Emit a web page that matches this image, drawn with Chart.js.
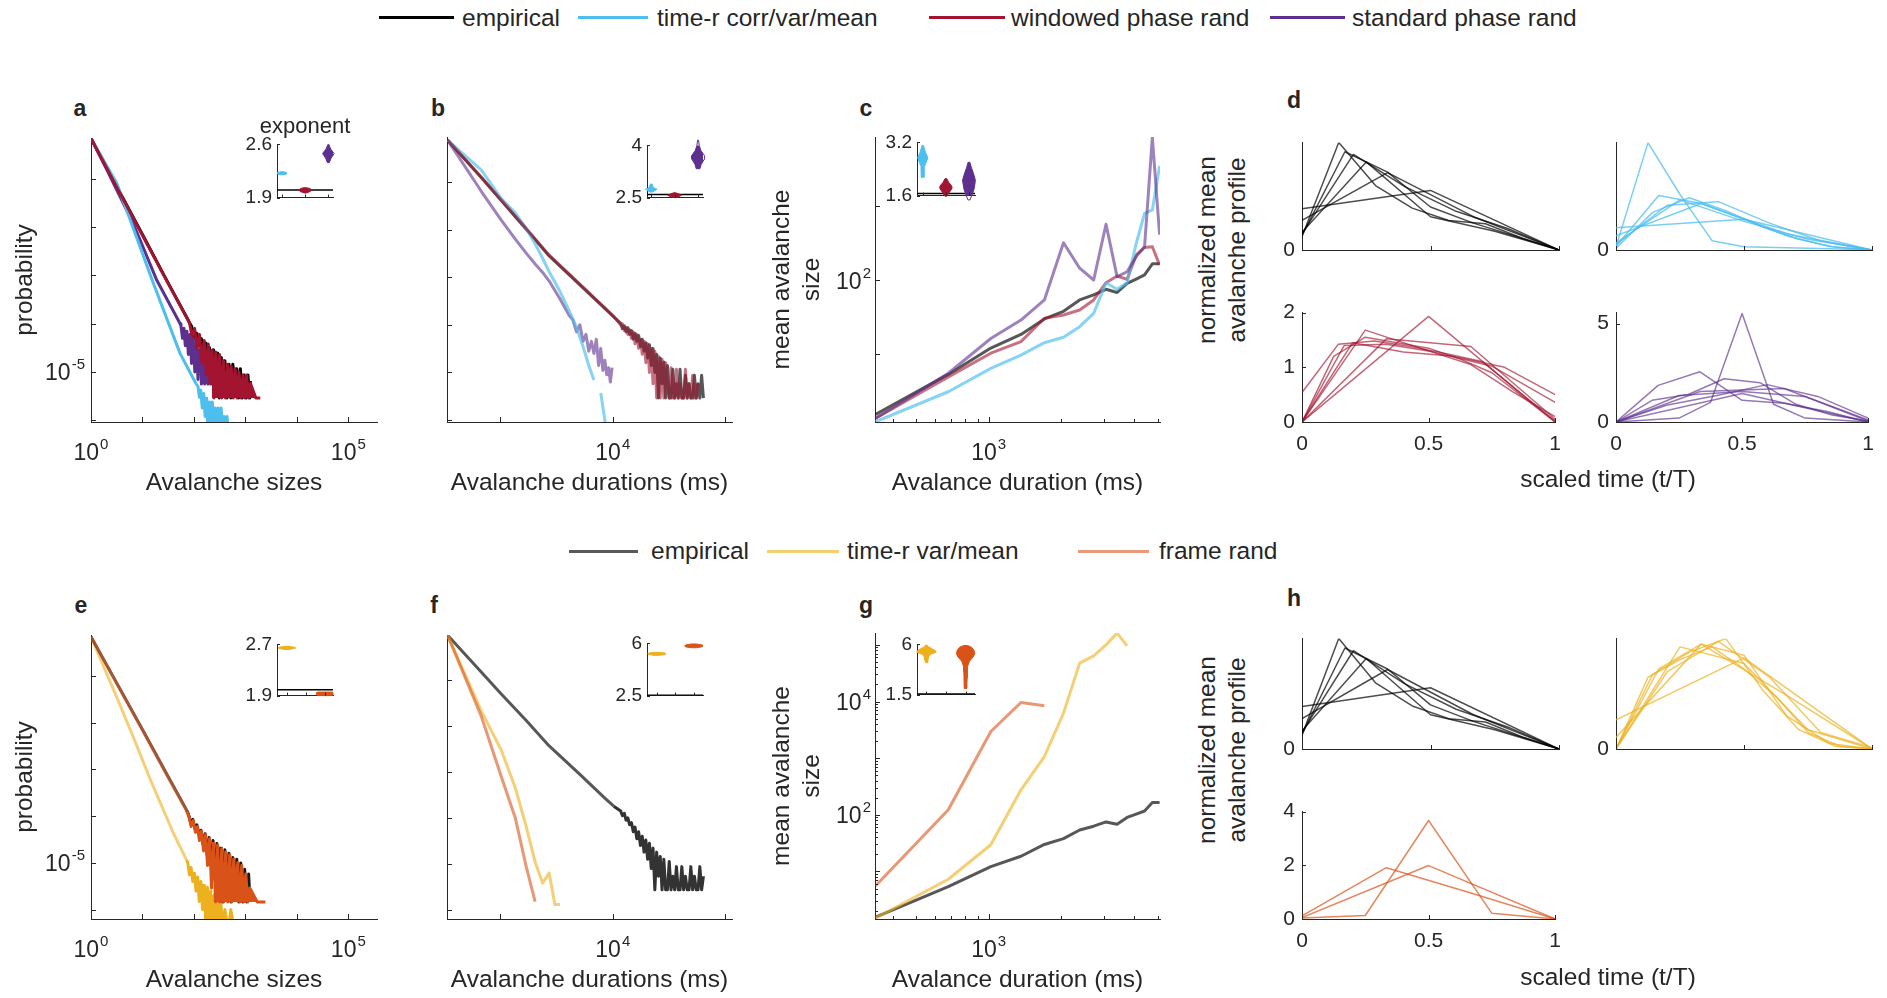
<!DOCTYPE html>
<html>
<head>
<meta charset="utf-8">
<script src="https://cdn.jsdelivr.net/npm/chart.js@4.4.1/dist/chart.umd.min.js"></script>
<style>
  body { margin: 0; width: 1887px; height: 998px; position: relative; overflow: hidden; background: #fff;
         font-family: 'Liberation Sans', Arial, Helvetica, sans-serif; color: #262626; }
  canvas { position: absolute; }
  .txt { position: absolute; white-space: nowrap; line-height: 1; }
  .swatch { position: absolute; height: 3px; }
</style>
</head>
<body>
<script>
// ---------- data: size distributions (panels a, e) ----------
const aEmpHeadX = [1, 3, 10, 30, 74];
const aEmpHeadY = [0.69, 0.077, 7.0e-3, 7.7e-4, 1.3e-4];
const aEmpTailX = [80, 90, 100, 112, 125, 140, 155, 170, 185, 200, 220, 240, 260, 285, 310, 340, 370, 400, 440, 480, 520, 570, 620, 680, 740, 800, 870, 950, 1030, 1120, 1220, 1250];
const aEmpTailY = [1.1e-4, 8.8e-5, 5.0e-5, 6.4e-5, 3.5e-5, 4.9e-5, 2.0e-5, 4.0e-5, 1.2e-5, 3.2e-5, 8.7e-6, 2.9e-5, 5.8e-6, 2.6e-5, 2.9e-6, 2.0e-5, 5.8e-6, 1.7e-5, 2.9e-6, 1.45e-5, 2.9e-6, 1.45e-5, 5.8e-6, 1.16e-5, 2.9e-6, 1.16e-5, 2.9e-6, 8.7e-6, 2.9e-6, 8.7e-6, 2.9e-6, 6.5e-6];
const aWinHeadX = [1, 3, 10, 30, 74];
const aWinHeadY = [0.69, 0.075, 6.8e-3, 7.5e-4, 1.28e-4];
const aWinTailX = [82, 92, 103, 115, 128, 143, 158, 175, 190, 205, 225, 245, 265, 290, 315, 345, 375, 410, 450, 490, 530, 580, 630, 690, 750, 820, 900, 980, 1060, 1150, 1250, 1600, 1950];
const aWinTailY = [1.05e-4, 5.5e-5, 8.0e-5, 3.0e-5, 6.0e-5, 1.5e-5, 4.5e-5, 8.7e-6, 3.8e-5, 5.8e-6, 3.0e-5, 2.9e-6, 2.6e-5, 5.8e-6, 2.3e-5, 2.9e-6, 1.7e-5, 2.9e-6, 1.45e-5, 5.8e-6, 1.3e-5, 2.9e-6, 1.16e-5, 2.9e-6, 1.0e-5, 2.9e-6, 8.7e-6, 2.9e-6, 8.7e-6, 2.9e-6, 5.8e-6, 2.9e-6, 2.9e-6];
const aStdHeadX = [1, 2, 6.6, 19, 54];
const aStdHeadY = [0.69, 0.16, 0.012, 7.9e-4, 1.0e-4];
const aStdTailX = [56, 60, 64, 68, 73, 78, 84, 90, 97, 104, 112, 120, 130, 140, 150, 162, 175, 188, 200, 215, 230, 240];
const aStdTailY = [9.0e-5, 5.0e-5, 8.0e-5, 3.5e-5, 7.0e-5, 2.3e-5, 6.0e-5, 1.5e-5, 5.0e-5, 1.0e-5, 4.0e-5, 7.0e-6, 3.0e-5, 5.6e-6, 2.4e-5, 5.6e-6, 1.8e-5, 5.6e-6, 1.3e-5, 5.6e-6, 8.0e-6, 5.6e-6];
const aTimeHeadX = [1, 3.2, 16, 54, 110];
const aTimeHeadY = [0.69, 0.079, 7.2e-4, 2.4e-5, 5.7e-6];
const aTimeTailX = [120, 128, 136, 145, 155, 165, 176, 188, 200, 214, 228, 244, 260, 278, 296, 316, 338, 360, 385, 410, 440, 460];
const aTimeTailY = [5.0e-6, 3.0e-6, 4.2e-6, 1.8e-6, 3.6e-6, 1.2e-6, 3.0e-6, 6e-7, 2.4e-6, 1.2e-6, 2.4e-6, 6e-7, 1.8e-6, 6e-7, 1.8e-6, 6e-7, 1.8e-6, 6e-7, 1.2e-6, 6e-7, 1.2e-6, 6e-7];

const eEmpHeadX = [1, 10, 30, 72];
const eEmpHeadY = [0.69, 7.1e-3, 7.8e-4, 1.35e-4];
const eEmpTailX = [78, 86, 95, 104, 114, 125, 137, 150, 165, 180, 197, 215, 235, 257, 280, 306, 334, 365, 400, 437, 478, 522, 570, 623, 680, 743, 812, 887, 969, 1058, 1156, 1230];
const eEmpTailY = [1.1e-4, 7.5e-5, 8.5e-5, 5.5e-5, 6.5e-5, 4.0e-5, 5.0e-5, 2.5e-5, 4.2e-5, 1.5e-5, 3.5e-5, 8.8e-6, 3.0e-5, 4.4e-6, 2.6e-5, 2.9e-6, 2.2e-5, 1.46e-6, 1.9e-5, 2.9e-6, 1.6e-5, 1.46e-6, 1.3e-5, 2.9e-6, 1.2e-5, 1.46e-6, 1.0e-5, 1.46e-6, 7.3e-6, 1.46e-6, 5.8e-6, 1.46e-6];
const eFrameHeadX = [1, 10, 30, 72];
const eFrameHeadY = [0.69, 6.9e-3, 7.4e-4, 1.3e-4];
const eFrameTailX = [80, 88, 97, 107, 117, 128, 140, 154, 168, 184, 201, 220, 241, 264, 289, 316, 346, 378, 414, 453, 496, 542, 593, 649, 710, 777, 850, 930, 1018, 1114, 1218, 1700, 2450];
const eFrameTailY = [1.0e-4, 6.0e-5, 8.0e-5, 4.5e-5, 6.0e-5, 3.0e-5, 4.8e-5, 1.8e-5, 4.0e-5, 8.8e-6, 3.3e-5, 2.9e-6, 2.8e-5, 1.46e-6, 2.4e-5, 1.46e-6, 2.0e-5, 1.46e-6, 1.7e-5, 1.46e-6, 1.5e-5, 1.46e-6, 1.2e-5, 2.9e-6, 1.0e-5, 1.46e-6, 8.8e-6, 1.46e-6, 5.8e-6, 1.46e-6, 2.9e-6, 1.46e-6, 1.46e-6];
const eTimeHeadX = [1, 3.16, 6.6, 14, 40, 72];
const eTimeHeadY = [0.69, 0.035, 5.0e-3, 6.3e-4, 4.3e-5, 1.15e-5];
const eTimeTailX = [76, 82, 88, 95, 102, 110, 118, 127, 137, 147, 158, 170, 183, 197, 212, 228, 245, 264, 284, 305, 330, 360, 400, 440, 480, 520, 580];
const eTimeTailY = [1.0e-5, 5.5e-6, 8.0e-6, 4.0e-6, 6.0e-6, 2.5e-6, 5.0e-6, 1.5e-6, 4.0e-6, 1.0e-6, 3.5e-6, 5e-7, 3.0e-6, 1.0e-6, 2.5e-6, 5e-7, 2.0e-6, 5e-7, 1.5e-6, 5e-7, 1.5e-6, 5e-7, 1.0e-6, 5e-7, 5e-7, 1.0e-6, 5e-7];

// ---------- data: duration distributions (panels b, f) ----------
const tailDurMs = [11750, 12190, 12650, 13120, 13610, 14130, 14660, 15210, 15780, 16370, 16980, 17620, 18280, 18970, 19680, 20420, 21180, 21980, 22800, 23660, 24550, 25470, 26420, 27420, 28440, 29510, 30620, 31770, 32960, 34200, 35480, 36810, 38190, 39630, 41110, 42660, 44260, 45920, 47640, 49430, 51290, 53210, 55210, 57280, 59430, 61660, 63970];
const bEmpHeadX = [340, 680, 1020, 1700, 2720, 5100, 10200];
const bEmpHeadY = [0.76, 0.123, 0.041, 0.0102, 2.8e-3, 6.9e-4, 1.47e-4];
const bEmpTailY = [1.07e-4, 8.3e-5, 9.5e-5, 7.1e-5, 8.7e-5, 6.3e-5, 7.6e-5, 5.0e-5, 6.6e-5, 4.5e-5, 6.0e-5, 3.5e-5, 5.0e-5, 2.8e-5, 4.2e-5, 2.0e-5, 3.8e-5, 1.4e-5, 3.2e-5, 1.0e-5, 2.4e-5, 2.9e-6, 2.0e-5, 5.8e-6, 1.66e-5, 2.9e-6, 1.4e-5, 2.9e-6, 2.9e-6, 1.16e-5, 2.9e-6, 5.8e-6, 2.9e-6, 1.16e-5, 2.9e-6, 2.9e-6, 8.7e-6, 2.9e-6, 5.8e-6, 2.9e-6, 2.9e-6, 8.7e-6, 2.9e-6, 5.8e-6, 2.9e-6, 8.7e-6, 2.9e-6];
const bWinHeadX = [340, 680, 1020, 1700, 2720, 5100, 10200];
const bWinHeadY = [0.76, 0.125, 0.042, 0.0105, 2.9e-3, 7.2e-4, 1.5e-4];
const bWinTailY = [1.0e-4, 1.05e-4, 7.6e-5, 8.9e-5, 6.3e-5, 7.9e-5, 5.2e-5, 7.1e-5, 4.0e-5, 6.3e-5, 3.2e-5, 5.0e-5, 2.4e-5, 4.5e-5, 1.6e-5, 4.0e-5, 1.0e-5, 3.2e-5, 5.8e-6, 2.8e-5, 2.9e-6, 2.2e-5, 2.9e-6, 1.9e-5, 2.9e-6, 1.6e-5, 5.8e-6, 2.9e-6, 1.26e-5, 2.9e-6, 2.9e-6, 1.16e-5, 2.9e-6, 5.8e-6, 2.9e-6, 2.9e-6, 1.16e-5, 2.9e-6, 5.8e-6, 2.9e-6, 8.7e-6, 2.9e-6, 2.9e-6, 5.8e-6];
const bStdX = [340, 680, 1020, 1360, 1700, 2040, 2380, 2720, 3400, 4080, 4420, 4760, 5100, 5440, 5780, 6120, 6460, 6800, 7140, 7480, 7820, 8160, 8500, 8840, 9180, 9520, 9860];
const bStdY = [0.76, 0.063, 0.0158, 6.3e-3, 3.2e-3, 1.9e-3, 1.26e-3, 8.3e-4, 3.5e-4, 1.6e-4, 1.26e-4, 7.1e-5, 1.0e-4, 4.5e-5, 6.3e-5, 2.8e-5, 4.5e-5, 2.5e-5, 5.0e-5, 1.4e-5, 3.2e-5, 1.1e-5, 1.8e-5, 8.9e-6, 1.26e-5, 6.3e-6, 1.26e-5];
const bTimeX = [340, 680, 1020, 1360, 1700, 2040, 2380, 2720, 3400, 4080, 4760, 5440, 6120, 6800, 7480, 7820, 8500, 8840];
const bTimeY = [0.76, 0.178, 0.045, 0.0224, 0.0105, 5.0e-3, 2.5e-3, 1.3e-3, 5.0e-4, 2.0e-4, 8.9e-5, 3.5e-5, 1.4e-5, 6.9e-6, null, 3.7e-6, 1.0e-6, 5e-7];

const fEmpHeadX = [340, 680, 1020, 1700, 2720, 5100, 8500, 10200];
const fEmpHeadY = [0.95, 0.148, 0.05, 0.0132, 3.7e-3, 8.9e-4, 2.7e-4, 1.8e-4];
const fEmpTailY = [1.41e-4, 1.12e-4, 1.26e-4, 8.9e-5, 1.0e-4, 7.1e-5, 7.9e-5, 5.0e-5, 6.3e-5, 3.5e-5, 5.0e-5, 2.5e-5, 4.0e-5, 1.8e-5, 3.3e-5, 1.26e-5, 2.8e-5, 7.9e-6, 2.2e-5, 2.72e-6, 1.8e-5, 5.4e-6, 1.45e-5, 2.72e-6, 1.26e-5, 2.72e-6, 2.72e-6, 1.12e-5, 2.72e-6, 5.4e-6, 2.72e-6, 8.7e-6, 2.72e-6, 2.72e-6, 8.7e-6, 2.72e-6, 5.4e-6, 2.72e-6, 2.72e-6, 8.7e-6, 2.72e-6, 5.4e-6, 2.72e-6, 2.72e-6, 8.7e-6, 2.72e-6, 5.4e-6];
const fTimeX = [340, 680, 1020, 1360, 1700, 2040, 2380, 2720, 3060, 3400];
const fTimeY = [0.95, 0.021, 3.0e-3, 4.5e-4, 6.5e-5, 1.1e-5, 3.8e-6, 6.3e-6, 1.3e-6, 1.3e-6];
const fFrameX = [340, 680, 1020, 1360, 1700, 2040];
const fFrameY = [0.95, 0.016, 8.0e-4, 1.0e-4, 8.7e-6, 1.5e-6];

// ---------- data: mean size vs duration (panels c, g) ----------
const durMs = [340, 680, 1020, 1360, 1700, 2040, 2380, 2720, 3060, 3400, 3740, 4080, 4420, 4760, 5100];
const empSize = [1.57, 5.4, 12.2, 18.6, 30, 38, 54, 63, 75, 68, 90, 103, 117, 165, 165];
const cWinSize = [1.39, 5.0, 10.4, 14.9, 30.6, 33.9, 39.5, 54, 92, 113, 102, 217, 274, 280, 159];
const cStdSize = [1.39, 5.6, 16.4, 29, 54, 316, 144, 100, 560, 111, 129, 206, 280, 8200, 406];
const cTimeSize = [1.25, 3.16, 6.5, 9.8, 14.4, 17, 23.6, 35.7, 92, 75, 92, 309, 785, 871, 3390];
const gTimeSize = [1.51, 7.3, 29.6, 277, 1070, 6240, 47600, 64000, 100000, 161000, 96200];
const gFrameSize = [5.6, 123, 2960, 9620, 8400];

// ---------- data: exponent insets (violin outlines: value, half width) ----------
const aExpEmp = 2.0;
const aExpTimeY = [2.20, 2.21, 2.22, 2.23, 2.24], aExpTimeW = [0.05, 0.19, 0.2, 0.19, 0.05];
const aExpWinY = [1.96, 1.98, 2.0, 2.02, 2.03], aExpWinW = [0.03, 0.22, 0.28, 0.2, 0.05];
const aExpStdY = [2.36, 2.42, 2.48, 2.54, 2.6], aExpStdW = [0.04, 0.12, 0.25, 0.1, 0.02];
const bExpEmp = 2.59;
const bExpTimeY = [2.66, 2.70, 2.74, 2.78, 2.89], bExpTimeW = [0.05, 0.15, 0.25, 0.1, 0.03];
const bExpWinY = [2.5, 2.54, 2.57, 2.6, 2.64], bExpWinW = [0.03, 0.22, 0.29, 0.2, 0.03];
const bExpStdY = [3.33, 3.45, 3.6, 3.7, 3.85, 4.0, 4.15], bExpStdW = [0.08, 0.13, 0.26, 0.28, 0.12, 0.05, 0.02];
const cExpEmp = 1.66;
const cExpTimeY = [2.15, 2.3, 2.47, 2.6, 2.74, 2.9, 3.11], cExpTimeW = [0.06, 0.06, 0.07, 0.15, 0.22, 0.12, 0.03];
const cExpWinY = [1.58, 1.7, 1.8, 1.85, 1.92, 2.0, 2.11], cExpWinW = [0.04, 0.15, 0.25, 0.27, 0.22, 0.12, 0.04];
const cExpStdY = [1.47, 1.6, 1.8, 2.06, 2.25, 2.45, 2.6], cExpStdW = [0.04, 0.12, 0.22, 0.28, 0.2, 0.1, 0.04];
const eExpEmp = 1.99;
const eExpTimeY = [2.62, 2.635, 2.645, 2.655, 2.67], eExpTimeW = [0.1, 0.4, 0.47, 0.4, 0.1];
const eExpFrameY = [1.90, 1.915, 1.93, 1.945, 1.955], eExpFrameW = [0.4, 0.43, 0.43, 0.43, 0.4];
const fExpEmp = 2.53;
const fExpTimeY = [5.2, 5.25, 5.3, 5.35, 5.4], fExpTimeW = [0.15, 0.45, 0.49, 0.45, 0.15];
const fExpFrameY = [5.71, 5.77, 5.83, 5.89, 5.96], fExpFrameW = [0.15, 0.45, 0.49, 0.45, 0.15];
const gExpEmp = 1.55;
const gExpTimeY = [4.36, 4.6, 4.9, 5.1, 5.3, 5.45, 5.6, 5.8, 5.95], gExpTimeW = [0.04, 0.08, 0.12, 0.2, 0.5, 0.45, 0.3, 0.1, 0.03];
const gExpFrameY = [2.05, 2.5, 3.0, 3.5, 4.0, 4.5, 4.9, 5.18, 5.5, 5.75, 5.9], gExpFrameW = [0.05, 0.07, 0.08, 0.09, 0.1, 0.2, 0.4, 0.47, 0.42, 0.3, 0.1];

// ---------- data: normalized mean avalanche profiles (panels d, h) ----------
const scaledTime = {
  3: [0, 0.5, 1],
  4: [0, 0.333, 0.667, 1],
  5: [0, 0.25, 0.5, 0.75, 1],
  6: [0, 0.2, 0.4, 0.6, 0.8, 1],
  7: [0, 0.167, 0.333, 0.5, 0.667, 0.833, 1],
  8: [0, 0.143, 0.286, 0.429, 0.571, 0.714, 0.857, 1],
  9: [0, 0.125, 0.25, 0.375, 0.5, 0.625, 0.75, 0.875, 1]
};
const profEmp = [
  [0.77, 1.11, 0],
  [0.55, 1.44, 0.62, 0],
  [0.33, 1.64, 0.62, 0.35, 0],
  [0.30, 1.78, 1.18, 0.72, 0.40, 0],
  [0.27, 1.83, 1.45, 0.80, 0.50, 0.25, 0],
  [0.25, 2.00, 1.20, 0.78, 0.55, 0.49, 0.22, 0]
];
const profTimeCorr = [
  [0.62, 0.86, 0],
  [0.40, 1.30, 0.45, 0],
  [0.20, 1.40, 0.80, 0.30, 0],
  [0.15, 1.25, 1.35, 0.75, 0.25, 0],
  [0.10, 1.52, 1.30, 0.85, 0.40, 0.10, 0],
  [0.05, 1.05, 1.46, 1.10, 0.65, 0.30, 0.08, 0],
  [0.09, 3.00, 1.55, 0.26, 0.09, 0.07, 0.05, 0.03, 0]
];
const profWin = [
  [0, 1.93, 0],
  [0, 1.52, 1.38, 0.05],
  [0, 1.68, 1.30, 1.02, 0.36],
  [0, 1.45, 1.28, 1.20, 1.00, 0.50],
  [0, 1.40, 1.42, 1.30, 1.05, 0.55, 0.10],
  [0.54, 1.42, 1.48, 1.38, 1.25, 1.10, 0.55, 0.02],
  [0, 1.20, 1.55, 1.45, 1.35, 1.15, 0.90, 0.45, 0]
];
const profStd = [
  [0, 1.45, 0],
  [0, 1.55, 1.70, 0.05],
  [0, 1.35, 1.55, 1.30, 0.10],
  [0, 0.85, 1.35, 1.90, 1.30, 0.20],
  [0, 1.86, 2.55, 1.10, 0.95, 0.55, 0],
  [0, 1.10, 1.40, 2.20, 2.00, 0.90, 0.35, 0.05],
  [0, 0.10, 0.20, 1.00, 5.52, 0.90, 0.20, 0.10, 0]
];
const profTimeVar = [
  [0.53, 1.65, 0],
  [0.21, 1.90, 0.97, 0],
  [0, 1.85, 1.55, 0.35, 0],
  [0, 1.40, 1.95, 1.30, 0.30, 0.02],
  [0, 1.45, 1.90, 1.70, 0.60, 0.10, 0],
  [0, 1.35, 1.75, 2.00, 1.08, 0.35, 0.05, 0],
  [0, 1.30, 1.62, 1.85, 1.45, 0.95, 0.30, 0.05, 0]
];
const profFrame = [
  [0.05, 1.99, 0],
  [0.12, 1.91, 0.97, 0],
  [0.04, 0.13, 3.67, 0.21, 0]
];

// ---------- tick labels ----------
const sizeTicks = [1, 10, 100, 1e3, 1e4, 1e5], sizeTickLabels = ['10⁰', '', '', '', '', '10⁵'];
const probTicks = [1e-6, 1e-5, 1e-4, 1e-3, 1e-2, 1e-1], probTickLabels = ['', '10⁻⁵', '', '', '', ''];
const durTicks = [1e3, 1e4, 1e5], durTickLabels = ['', '10⁴', ''];
const meanDurTicks = [1e3], meanDurTickLabels = ['10³'];
const meanDurMinor = [400, 500, 600, 700, 800, 900, 2000, 3000, 4000, 5000];
const cSizeTicks = [10, 100, 1000], cSizeTickLabels = ['', '10²', ''];
const gSizeTicks = [10, 100, 1e3, 1e4, 1e5], gSizeTickLabels = ['', '10²', '', '10⁴', ''];
const profTicks = [0, 0.5, 1], profTickLabels = ['0', '0.5', '1'];

// ---------- styling ----------
const FONT = "'Liberation Sans', Arial, Helvetica, sans-serif";
const AX = '#262626';
const COL = { emp: '#000000', time: '#4DBEEE', win: '#A2142F', std: '#5D2F8E', tvar: '#EDB120', frame: '#D95319' };
const LIGHT = {
  emp: 'rgba(0,0,0,0.66)', time: 'rgba(77,190,238,0.68)', win: 'rgba(162,20,47,0.6)',
  std: 'rgba(93,47,142,0.6)', tvar: 'rgba(237,177,32,0.62)', frame: 'rgba(217,83,25,0.6)'
};

// inward tick marks, MATLAB style
Chart.register({
  id: 'inTicks',
  afterDraw(chart, args, opts) {
    const { ctx, chartArea: area } = chart;
    ctx.save();
    ctx.strokeStyle = AX;
    ctx.lineWidth = 1;
    for (const s of [chart.scales.x, chart.scales.y]) {
      for (const t of s.ticks) {
        const p = Math.round(s.getPixelForValue(t.value)) + 0.5;
        const len = t.minorTick ? opts.len * 0.6 : opts.len;
        ctx.beginPath();
        if (s.isHorizontal()) { ctx.moveTo(p, area.bottom); ctx.lineTo(p, area.bottom - len); }
        else { ctx.moveTo(area.left, p); ctx.lineTo(area.left + len, p); }
        ctx.stroke();
      }
    }
    ctx.restore();
  }
});

// power-of-ten tick labels with a raised, smaller exponent
const SUP = { '⁰': '0', '¹': '1', '²': '2', '³': '3', '⁴': '4', '⁵': '5', '⁶': '6', '⁷': '7', '⁸': '8', '⁹': '9', '⁻': '-' };
Chart.register({
  id: 'powLabels',
  afterDraw(chart) {
    const { ctx, chartArea: area } = chart;
    ctx.save();
    ctx.fillStyle = AX;
    ctx.textAlign = 'left';
    ctx.textBaseline = 'alphabetic';
    for (const s of [chart.scales.x, chart.scales.y]) {
      if (!s.options.powLabels) continue;
      for (const t of s.ticks) {
        if (!t.label) continue;
        const base = t.label.replace(/[⁰¹²³⁴⁵⁶⁷⁸⁹⁻]/g, '');
        const exp = t.label.slice(base.length).split('').map(c => SUP[c] || c).join('');
        ctx.font = '23px ' + FONT;
        const bw = ctx.measureText(base).width;
        ctx.font = '15px ' + FONT;
        const ew = ctx.measureText(exp).width;
        const p = s.getPixelForValue(t.value);
        let x0, yb;
        if (s.isHorizontal()) { x0 = p - (bw + ew + 1) / 2; yb = area.bottom + 38; }
        else { x0 = area.left - s.options.ticks.padding - bw - ew - 1; yb = p + 8.5; }
        ctx.font = '23px ' + FONT;
        ctx.fillText(base, x0, yb);
        ctx.font = '15px ' + FONT;
        ctx.fillText(exp, x0 + bw + 1, yb - 11);
      }
    }
    ctx.restore();
  }
});

function axis(o) {
  const ticks = o.ticks || [];
  const labels = o.labels || [];
  const isLog = o.type === 'logarithmic';
  return {
    type: o.type || 'linear',
    min: o.min, max: o.max, bounds: 'data',
    powLabels: isLog,
    grid: { display: false, drawTicks: false },
    border: { display: true, color: AX, width: 1 },
    ticks: {
      display: !isLog && o.showLabels !== false,
      autoSkip: false, maxRotation: 0, minRotation: 0,
      padding: o.pad ?? 8,
      color: AX,
      font: { family: FONT, size: o.size || 22 },
      callback: v => { const i = ticks.indexOf(v); return i < 0 ? '' : (labels[i] ?? ''); }
    },
    afterBuildTicks: s => {
      s.ticks = ticks.map(v => ({ value: v })).concat((o.minor || []).map(v => ({ value: v, minorTick: true })));
    },
    title: o.title
      ? { display: true, text: o.title, color: AX, font: { family: FONT, size: 24.5 }, padding: o.titlePad || 0 }
      : { display: false }
  };
}

// box = [left, top, right, bottom] of the plot area, pad = [left, top, right, bottom] margins
function makeChart(box, pad, xAxis, yAxis, datasets, tickLen) {
  const cv = document.createElement('canvas');
  const w = box[2] - box[0] + pad[0] + pad[2];
  const h = box[3] - box[1] + pad[1] + pad[3];
  cv.width = w;
  cv.height = h;
  Object.assign(cv.style, { left: (box[0] - pad[0]) + 'px', top: (box[1] - pad[1]) + 'px', width: w + 'px', height: h + 'px' });
  document.body.appendChild(cv);
  xAxis.position = 'bottom';
  yAxis.position = 'left';
  xAxis.afterFit = s => { s.height = pad[3]; };
  yAxis.afterFit = s => { s.width = pad[0]; };
  return new Chart(cv, {
    type: 'scatter',
    data: { datasets },
    options: {
      responsive: false, animation: false, devicePixelRatio: 1, events: [],
      layout: { padding: { left: 0, top: pad[1], right: pad[2], bottom: 0 } },
      plugins: { legend: { display: false }, tooltip: { enabled: false }, inTicks: { len: tickLen || 5 } },
      scales: { x: xAxis, y: yAxis }
    }
  });
}

function line(xs, ys, color, width, extra) {
  return Object.assign({
    data: xs.map((x, i) => ({ x, y: ys[i] })),
    showLine: true, borderColor: color, backgroundColor: color, borderWidth: width,
    pointRadius: 0, tension: 0, fill: false, spanGaps: false, borderJoinStyle: 'round'
  }, extra || {});
}

// light head, solid noisy tail (overlapping transparent segments look solid in the original)
function tailLine(hx, hy, tx, ty, headColor, tailColor, width) {
  const n = hx.length;
  return line(hx.concat(tx), hy.concat(ty), headColor, width, {
    segment: { borderColor: c => (c.p0DataIndex >= n - 1 ? tailColor : undefined) }
  });
}

// noisy tail that alternates down to the single-count floor: shade it down to that floor
function bandLine(hx, hy, tx, ty, headColor, tailColor, width) {
  const n = hx.length;
  const floor = Math.min(...ty);
  const from = n + ty.indexOf(floor) - 1;
  return line(hx.concat(tx), hy.concat(ty), headColor, width, {
    fill: { value: floor },
    backgroundColor: 'rgba(0,0,0,0)',
    segment: {
      borderColor: c => (c.p0DataIndex >= n - 1 ? tailColor : undefined),
      backgroundColor: c => (c.p0DataIndex >= from ? tailColor : undefined)
    }
  });
}

function violin(pos, ys, ws, color) {
  const pts = ys.map((y, i) => ({ x: pos + ws[i], y }));
  for (let i = ys.length - 1; i >= 0; i--) pts.push({ x: pos - ws[i], y: ys[i] });
  pts.push(pts[0]);
  return { data: pts, showLine: true, fill: 'shape', borderColor: color, backgroundColor: color,
           borderWidth: 1, pointRadius: 0, tension: 0, clip: false };
}

function refLine(xmin, xmax, y) {
  return line([xmin, xmax], [y, y], '#000', 1.5);
}

function profiles(rows, color) {
  return rows.map(r => line(scaledTime[r.length], r, color, 1.5));
}

function text(str, cx, baseline, size, bold, align) {
  const d = document.createElement('div');
  d.className = 'txt';
  d.textContent = str;
  d.style.fontSize = size + 'px';
  d.style.top = (baseline - 0.8465 * size) + 'px';
  d.style.left = cx + 'px';
  if (align !== 'left') d.style.transform = 'translateX(-50%)';
  if (bold) d.style.fontWeight = 'bold';
  document.body.appendChild(d);
}

function vtext(str, cx, cy, size) {
  const d = document.createElement('div');
  d.className = 'txt';
  d.textContent = str;
  d.style.fontSize = size + 'px';
  d.style.left = cx + 'px';
  d.style.top = cy + 'px';
  d.style.transform = 'translate(-50%,-50%) rotate(-90deg)';
  document.body.appendChild(d);
}

function legendItem(color, x1, x2, yLine, label, textX, baseline) {
  const s = document.createElement('div');
  s.className = 'swatch';
  Object.assign(s.style, { left: x1 + 'px', width: (x2 - x1) + 'px', top: (yLine - 1.5) + 'px', background: color });
  document.body.appendChild(s);
  text(label, textX, baseline, 24.5, false, 'left');
}

// ---------- legends ----------
legendItem(COL.emp, 379, 454, 17, 'empirical', 462, 27);
legendItem(COL.time, 578, 648, 17, 'time-r corr/var/mean', 657, 27);
legendItem(COL.win, 929, 1005, 17, 'windowed phase rand', 1011, 27);
legendItem(COL.std, 1270, 1345, 17, 'standard phase rand', 1352, 27);
legendItem('#595959', 569, 638, 551, 'empirical', 651, 560);
legendItem('#F3CF72', 767, 839, 551, 'time-r var/mean', 847, 560);
legendItem('#EA9A78', 1078, 1149, 551, 'frame rand', 1159, 560);

// ---------- panel letters ----------
[['a', 80, 116.7], ['b', 438, 116.7], ['c', 866, 116.7], ['d', 1294, 108.3],
 ['e', 81, 613], ['f', 434, 613], ['g', 866, 613], ['h', 1294, 606]]
  .forEach(([s, x, y]) => text(s, x, y, 23, true));

const MAIN_PAD = [80, 16, 14, 80];
const X_TITLE_PAD = { top: 0, bottom: 4 };
const Y_TITLE_PAD = { top: 0, bottom: 0 };

// ---------- a ----------
makeChart([91, 138, 377, 422], MAIN_PAD,
  axis({ type: 'logarithmic', min: 1, max: 361000, ticks: sizeTicks, labels: sizeTickLabels, title: 'Avalanche sizes', titlePad: X_TITLE_PAD }),
  axis({ type: 'logarithmic', min: 9.2e-7, max: 0.7, ticks: probTicks, labels: probTickLabels, pad: 6, title: 'probability', titlePad: Y_TITLE_PAD }),
  [bandLine(aWinHeadX, aWinHeadY, aWinTailX, aWinTailY, COL.win, COL.win, 3),
   bandLine(aTimeHeadX, aTimeHeadY, aTimeTailX, aTimeTailY, COL.time, COL.time, 3),
   bandLine(aStdHeadX, aStdHeadY, aStdTailX, aStdTailY, COL.std, COL.std, 3),
   bandLine(aEmpHeadX, aEmpHeadY, aEmpTailX, aEmpTailY, COL.emp, COL.emp, 3)]);

// ---------- b ----------
makeChart([447, 137, 732, 422], [40, 16, 14, 80],
  axis({ type: 'logarithmic', min: 336, max: 114800, ticks: durTicks, labels: durTickLabels, title: 'Avalanche durations (ms)', titlePad: X_TITLE_PAD }),
  axis({ type: 'logarithmic', min: 9.1e-7, max: 0.88, ticks: probTicks, labels: [], pad: 6 }),
  [line(bWinHeadX.concat(tailDurMs.slice(0, bWinTailY.length)), bWinHeadY.concat(bWinTailY), LIGHT.win, 3),
   line(bTimeX, bTimeY, LIGHT.time, 3),
   line(bStdX, bStdY, LIGHT.std, 3),
   line(bEmpHeadX.concat(tailDurMs), bEmpHeadY.concat(bEmpTailY), LIGHT.emp, 3)]);

// ---------- c ----------
makeChart([875, 137, 1160, 422], [107, 16, 14, 80],
  axis({ type: 'logarithmic', min: 338, max: 5120, ticks: meanDurTicks, labels: meanDurTickLabels, minor: meanDurMinor, title: 'Avalance duration (ms)', titlePad: X_TITLE_PAD }),
  axis({ type: 'logarithmic', min: 1.24, max: 8318, ticks: cSizeTicks, labels: cSizeTickLabels, pad: 4, title: ['mean avalanche', 'size'], titlePad: Y_TITLE_PAD }),
  [line(durMs, cStdSize, LIGHT.std, 3), line(durMs, cTimeSize, LIGHT.time, 3), line(durMs, cWinSize, LIGHT.win, 3), line(durMs, empSize, LIGHT.emp, 3)]);

// ---------- e ----------
makeChart([91, 635, 377, 919], MAIN_PAD,
  axis({ type: 'logarithmic', min: 1, max: 361000, ticks: sizeTicks, labels: sizeTickLabels, title: 'Avalanche sizes', titlePad: X_TITLE_PAD }),
  axis({ type: 'logarithmic', min: 6.3e-7, max: 0.75, ticks: probTicks, labels: probTickLabels, pad: 6, title: 'probability', titlePad: Y_TITLE_PAD }),
  [bandLine(eFrameHeadX, eFrameHeadY, eFrameTailX, eFrameTailY, LIGHT.frame, COL.frame, 3),
   bandLine(eEmpHeadX, eEmpHeadY, eEmpTailX, eEmpTailY, LIGHT.emp, '#1a1a1a', 3),
   bandLine(eTimeHeadX, eTimeHeadY, eTimeTailX, eTimeTailY, LIGHT.tvar, COL.tvar, 3)]);

// ---------- f ----------
makeChart([447, 635, 732, 919], [40, 16, 14, 80],
  axis({ type: 'logarithmic', min: 336, max: 114800, ticks: durTicks, labels: durTickLabels, title: 'Avalanche durations (ms)', titlePad: X_TITLE_PAD }),
  axis({ type: 'logarithmic', min: 6.3e-7, max: 0.96, ticks: probTicks, labels: [], pad: 6 }),
  [line(fFrameX, fFrameY, LIGHT.frame, 3), line(fTimeX, fTimeY, LIGHT.tvar, 3),
   tailLine(fEmpHeadX, fEmpHeadY, tailDurMs, fEmpTailY, LIGHT.emp, '#333333', 3)]);

// ---------- g ----------
const gMinor = [];
[1, 10, 100, 1000, 10000].forEach(d => { for (let m = 2; m <= 9; m++) if (m * d > 1.45 && m * d < 162000) gMinor.push(m * d); });
makeChart([875, 633, 1160, 919], [107, 16, 14, 80],
  axis({ type: 'logarithmic', min: 338, max: 5120, ticks: meanDurTicks, labels: meanDurTickLabels, minor: meanDurMinor, title: 'Avalance duration (ms)', titlePad: X_TITLE_PAD }),
  axis({ type: 'logarithmic', min: 1.45, max: 162000, ticks: gSizeTicks, labels: gSizeTickLabels, minor: gMinor, pad: 4, title: ['mean avalanche', 'size'], titlePad: Y_TITLE_PAD }),
  [line(durMs.slice(0, gFrameSize.length), gFrameSize, LIGHT.frame, 3),
   line(durMs.slice(0, gTimeSize.length), gTimeSize, LIGHT.tvar, 3),
   line(durMs, empSize, LIGHT.emp, 3)]);

// ---------- exponent insets ----------
const INSET_PAD = [45, 14, 6, 14];
function inset(box, xr, yr, yLabels, sets) {
  makeChart(box, INSET_PAD,
    axis({ min: xr[0], max: xr[1], ticks: [1, 2, 3], showLabels: false }),
    axis({ min: yr[0], max: yr[1], ticks: yr, labels: yLabels, size: 19, pad: 5 }),
    sets, 3);
}
inset([277, 142, 333, 200], [0.78, 3.2], [1.9, 2.6], ['1.9', '2.6'],
  [violin(1, aExpTimeY, aExpTimeW, COL.time), violin(2, aExpWinY, aExpWinW, COL.win), violin(3, aExpStdY, aExpStdW, COL.std), refLine(0.78, 3.2, aExpEmp)]);
text('exponent', 305, 133.3, 22);
inset([647, 143, 703, 200], [0.82, 3.21], [2.5, 4], ['2.5', '4'],
  [violin(1, bExpTimeY, bExpTimeW, COL.time), violin(2, bExpWinY, bExpWinW, COL.win), violin(3, bExpStdY, bExpStdW, COL.std), refLine(0.82, 3.21, bExpEmp)]);
inset([917, 140, 975, 198], [0.75, 3.26], [1.6, 3.2], ['1.6', '3.2'],
  [violin(1, cExpTimeY, cExpTimeW, COL.time), violin(2, cExpWinY, cExpWinW, COL.win), violin(3, cExpStdY, cExpStdW, COL.std), refLine(0.75, 3.26, cExpEmp)]);
inset([277, 642, 333, 698], [0.48, 3.43], [1.9, 2.7], ['1.9', '2.7'],
  [violin(1, eExpTimeY, eExpTimeW, COL.tvar), violin(3, eExpFrameY, eExpFrameW, COL.frame), refLine(0.48, 3.43, eExpEmp)]);
inset([647, 641, 703, 698], [0.47, 3.5], [2.5, 6], ['2.5', '6'],
  [violin(1, fExpTimeY, fExpTimeW, COL.tvar), violin(3, fExpFrameY, fExpFrameW, COL.frame), refLine(0.47, 3.5, fExpEmp)]);
inset([917, 642, 975, 697], [0.52, 3.48], [1.5, 6], ['1.5', '6'],
  [violin(1, gExpTimeY, gExpTimeW, COL.tvar), violin(3, gExpFrameY, gExpFrameW, COL.frame), refLine(0.52, 3.48, gExpEmp)]);

// ---------- profile panels d, h ----------
const PROF_PAD = [40, 14, 12, 45];
function profilePanel(box, ymax, yTicks, rows, color, xLabels) {
  makeChart(box, PROF_PAD,
    axis({ min: 0, max: 1, ticks: profTicks, labels: profTickLabels, showLabels: xLabels, size: 21, pad: 10 }),
    axis({ min: 0, max: ymax, ticks: yTicks, labels: yTicks.map(String), size: 21, pad: 7 }),
    profiles(rows, color), 4);
}
const PROF_COL = {
  emp: 'rgba(0,0,0,0.7)', time: 'rgba(77,190,238,0.75)', win: 'rgba(162,20,47,0.65)',
  std: 'rgba(93,47,142,0.65)', tvar: 'rgba(237,177,32,0.7)', frame: 'rgba(217,83,25,0.7)'
};
profilePanel([1302, 137, 1559, 250], 2.0, [0], profEmp, PROF_COL.emp, false);
profilePanel([1616, 137, 1872, 250], 3.0, [0], profTimeCorr, PROF_COL.time, false);
profilePanel([1302, 307, 1559, 422], 2.0, [0, 1, 2], profWin, PROF_COL.win, true);
profilePanel([1616, 307, 1872, 422], 5.56, [0, 5], profStd, PROF_COL.std, true);
profilePanel([1302, 633, 1559, 749], 2.0, [0], profEmp, PROF_COL.emp, false);
profilePanel([1616, 633, 1872, 749], 2.0, [0], profTimeVar, PROF_COL.tvar, false);
profilePanel([1302, 806, 1559, 919], 4.0, [0, 2, 4], profFrame, PROF_COL.frame, true);

vtext('normalized mean', 1207, 250, 24.5);
vtext('avalanche profile', 1237, 250, 24.5);
vtext('normalized mean', 1207, 750, 24.5);
vtext('avalanche profile', 1237, 750, 24.5);
text('scaled time (t/T)', 1608, 488, 24.5);
text('scaled time (t/T)', 1608, 986, 24.5);
</script>
</body>
</html>
